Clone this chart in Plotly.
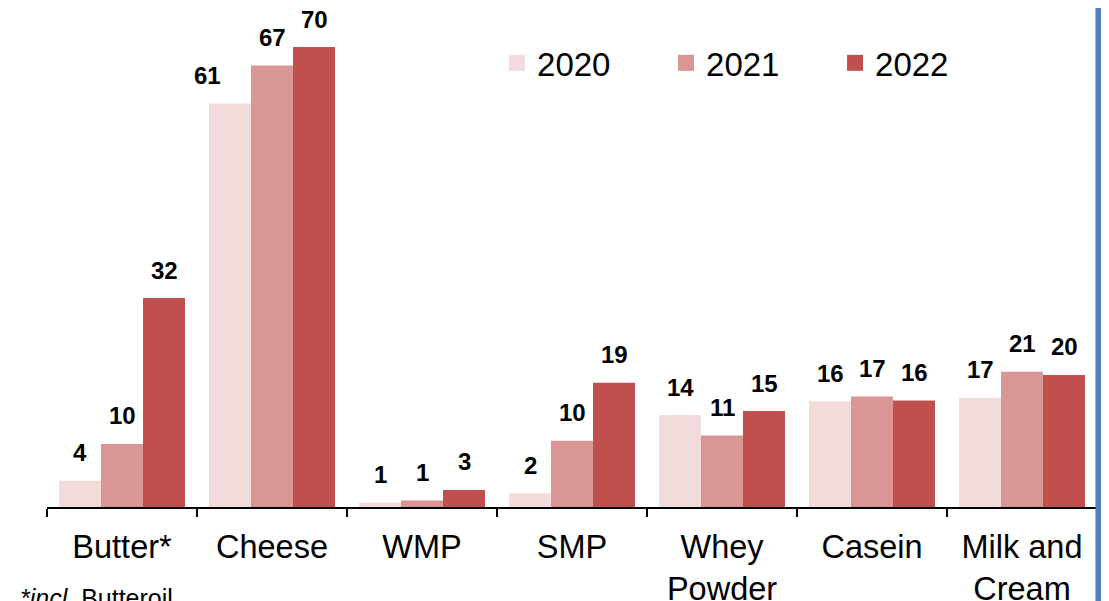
import plotly.graph_objects as go

# data
categories = ["Butter*", "Cheese", "WMP", "SMP", "Whey<br>Powder", "Casein", "Milk and<br>Cream"]
years = ["2020", "2021", "2022"]
v2020 = [4.0, 61.4, 0.7, 2.1, 14.0, 16.1, 16.6]
v2021 = [9.6, 67.2, 1.0, 10.1, 10.9, 16.8, 20.6]
v2022 = [31.8, 70.0, 2.6, 18.9, 14.6, 16.2, 20.1]
footnote = "<i>*incl.</i> Butteroil"

COLORS = ["#F2DCDB", "#D99694", "#C0504D"]
LABEL_FONT = dict(family="Liberation Sans Narrow, Arial Narrow, Liberation Sans, Arial", size=24, color="#000000")
TICK_FONT = dict(family="Liberation Sans, Arial, sans-serif", size=32.5, color="#000000")
LEGEND_FONT = dict(family="Liberation Sans, Arial, sans-serif", size=33, color="#000000")

series = [v2020, v2021, v2022]
fig = go.Figure()

for name, vals, col in zip(years, series, COLORS):
    fig.add_trace(go.Bar(
        x=categories, y=vals, name=name,
        marker=dict(color=col, line=dict(width=0)),
        showlegend=False, hoverinfo="x+y",
    ))
    # legend entry with a bigger square swatch
    fig.add_trace(go.Scatter(
        x=[None], y=[None], mode="markers", name=name,
        marker=dict(symbol="square", size=16, color=col),
    ))

# value labels above each bar
bar_w = 42
nudge = {(1, 0): -23}
annotations = []
for i, vals in enumerate(series):
    for j, (c, v) in enumerate(zip(categories, vals)):
        annotations.append(dict(
            x=c, y=v, xref="x", yref="y", text=f"<b>{round(v)}</b>",
            showarrow=False, font=LABEL_FONT,
            xshift=(i - 1) * bar_w + nudge.get((j, i), 0),
            yshift=28, yanchor="middle",
        ))

annotations.append(dict(
    x=-0.028, y=-0.150, xref="paper", yref="paper", xanchor="left", yanchor="top",
    text=footnote, showarrow=False,
    font=dict(family="Liberation Sans, Arial, sans-serif", size=25, color="#000000"),
))

# blue frame edge on the right
fig.add_shape(type="rect", xref="paper", yref="paper", x0=0.9985, x1=1.0085, y0=-0.3, y1=1.3,
              fillcolor="#4F81BD", line=dict(width=0), layer="above")

# page body adds 8px, so margins are trimmed to keep the plot where the reference has it
fig.update_layout(
    width=1109, height=601,
    margin=dict(l=39, r=20, t=0, b=102, autoexpand=False),
    paper_bgcolor="#ffffff", plot_bgcolor="#ffffff",
    barmode="group", bargap=0.16, bargroupgap=0,
    font=TICK_FONT,
    annotations=annotations,
    showlegend=True,
    legend=dict(orientation="h", x=0.4286, y=0.89, xanchor="left", yanchor="middle",
                entrywidth=124, font=LEGEND_FONT, bgcolor="rgba(0,0,0,0)",
                itemclick=False, itemdoubleclick=False),
    xaxis=dict(type="category", showline=True, linecolor="#000000", linewidth=2,
               ticks="outside", tickson="boundaries", ticklen=8, tickwidth=2, tickcolor="#000000",
               ticklabelstandoff=10, automargin=False,
               showgrid=False, tickfont=TICK_FONT, fixedrange=True),
    yaxis=dict(range=[0, 75.94], visible=False, showgrid=False, zeroline=False,
               automargin=False, fixedrange=True),
)

fig.write_html("out.html")
